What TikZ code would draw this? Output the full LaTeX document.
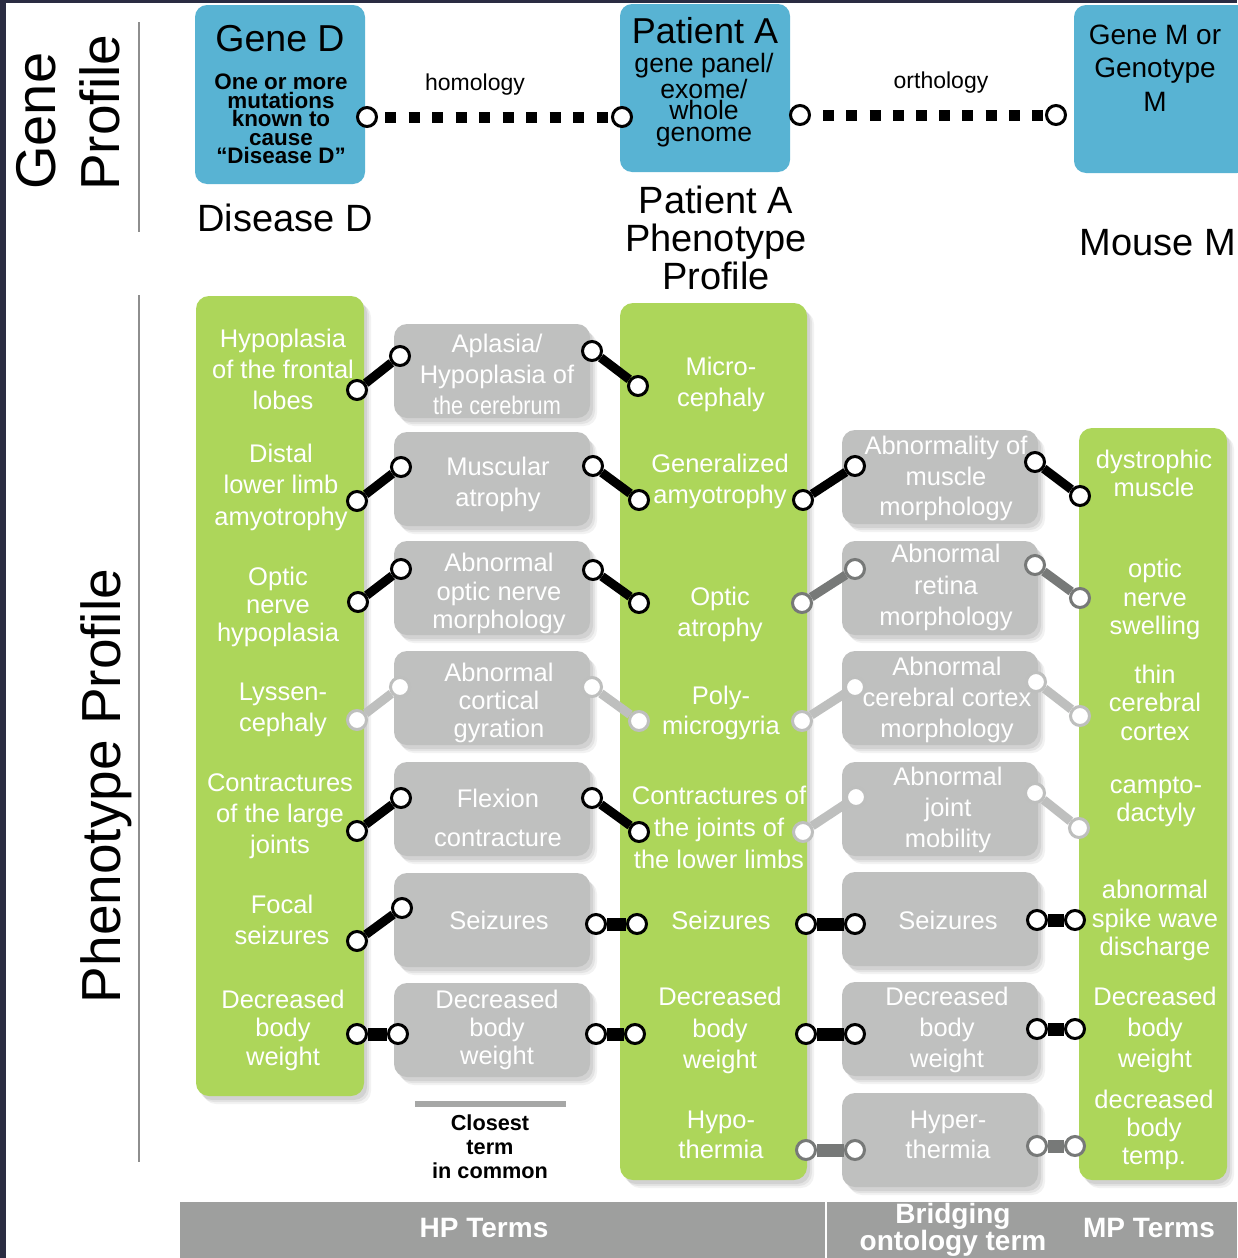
\documentclass[tikz,border=0pt]{standalone}
\usepackage{fontspec}
\setmainfont{Liberation Sans}
\usepackage{graphicx}
\definecolor{navy}{HTML}{2A2C42}
\definecolor{bluebx}{HTML}{58B3D3}
\definecolor{grn}{HTML}{ADD65A}
\definecolor{gry}{HTML}{BFC0BF}
\definecolor{barg}{HTML}{9E9F9E}
\definecolor{midg}{HTML}{777978}
\definecolor{ltg}{HTML}{BEBFBE}
\definecolor{sepg}{HTML}{8E8E8E}
\definecolor{legg}{HTML}{A6A7A6}
\newcommand\dumb[5]{%
  \node[cdot=#1] (#2a) at (#3) {};
  \node[cdot=#1] (#2b) at (#4) {};
  \draw[draw=#1, line width=#5] (#2a) -- (#2b);}
\begin{document}
\begin{tikzpicture}[x=1pt,y=-1pt,
  shd/.style={
    preaction={fill=black,fill opacity=0.05,transform canvas={xshift=7pt,yshift=-8pt}},
    preaction={fill=black,fill opacity=0.06,transform canvas={xshift=5pt,yshift=-6pt}},
    preaction={fill=black,fill opacity=0.07,transform canvas={xshift=3pt,yshift=-4pt}}},
  bx/.style={inner sep=0pt,outer sep=0pt,rounded corners=13pt,anchor=north west,draw=none},
  gbox/.style={bx,shd,fill=grn},
  ybox/.style={bx,shd,fill=gry},
  bbox/.style={bx,fill=bluebx,rounded corners=12pt},
  wt/.style={text=white,align=center,inner sep=0pt,font=\fontsize{25.5}{31}\selectfont},
  lead/.style={font=\fontsize{25.5}{#1}\selectfont},
  cdot/.style={circle,draw=#1,fill=white,line width=3pt,minimum size=19pt,inner sep=0pt},
  bt/.style={text=black,align=center,inner sep=0pt},
]
\useasboundingbox (0,0) rectangle (1237,1258);
\fill[white] (0,0) rectangle (1237,1258);
\fill[navy] (0,0) rectangle (1237,3);
\fill[navy] (0,0) rectangle (6,1258);

% side labels
\draw[sepg,line width=1.5pt] (139,22) -- (139,232);
\draw[sepg,line width=1.5pt] (139,295) -- (139,1162);
\node[bt,rotate=90,anchor=base west,font=\fontsize{56}{60}\selectfont] (lgene) at (55,190) {Gene};
\node[bt,rotate=90,anchor=base west,font=\fontsize{55}{60}\selectfont] (lprof) at (119,191) {Profile};
\node[bt,rotate=90,anchor=base,font=\fontsize{55}{60}\selectfont] (lphen) at (120,786) {Phenotype Profile};

% gene boxes
\node[bbox,minimum width=170pt,minimum height=179pt] (geneD) at (195,5) {};
\node[bbox,minimum width=170pt,minimum height=168pt] (patA) at (620,4) {};
\node[bbox,minimum width=175pt,minimum height=168pt] (geneM) at (1074,5) {};
\node[bt,font=\fontsize{37.5}{40}\selectfont] (tGD) at (280,38.5) {Gene D};
\node[bt,font=\bfseries\fontsize{22.4}{18.4}\selectfont] (tGDs) at (281,119) {One or more\\mutations\\known to\\cause\\“Disease D”};
\node[bt,font=\fontsize{36}{40}\selectfont] (tPA) at (705,31) {Patient A};
\node[bt,font=\fontsize{26.6}{21.5}\selectfont] (tPAs) at (704,100) {gene panel/\\exome/\\whole\\genome};
\node[bt,font=\fontsize{28}{33.5}\selectfont] (tGM) at (1155,68) {Gene M or\\Genotype\\M};
\node[bt,font=\fontsize{38}{38}\selectfont] (tDD) at (285,218) {Disease D};
\node[bt,font=\fontsize{38}{38}\selectfont] (tPP) at (716,238) {Patient A\\Phenotype\\Profile};
\node[bt,font=\fontsize{38}{38}\selectfont] (tMM) at (1158,243) {Mouse M};

% homology / orthology
\node[cdot=black] (hL) at (367,117) {};
\node[cdot=black] (hR) at (622,117) {};
\draw[line width=11pt,dash pattern=on 11pt off 12.5pt,dash phase=16.5pt] (hL) -- (hR);
\node[bt,font=\fontsize{23}{26}\selectfont] (thom) at (475,85) {homology};
\node[cdot=black] (oL) at (800,115) {};
\node[cdot=black] (oR) at (1056,115) {};
\draw[line width=11pt,dash pattern=on 11pt off 12.2pt,dash phase=11pt] (oL) -- (oR);
\node[bt,font=\fontsize{23}{26}\selectfont] (torth) at (941,83) {orthology};

% phenotype columns
\node[gbox,minimum width=168pt,minimum height=800pt] (colL) at (196,296) {};
\node[gbox,minimum width=187pt,minimum height=877pt] (colC) at (620,303) {};
\node[gbox,minimum width=148pt,minimum height=752pt] (colR) at (1079,428) {};

\foreach \n/\y in {a1/324,a2/432,a3/541,a4/651,a5/762,a6/873,a7/983}
  \node[ybox,minimum width=196pt,minimum height=94pt] (\n) at (394,\y) {};
\foreach \n/\y in {b1/430,b2/541,b3/651,b4/762,b5/872,b6/982,b7/1093}
  \node[ybox,minimum width=196pt,minimum height=94pt] (\n) at (842,\y) {};

% left column texts
\node[wt] (tL1) at (283,369) {Hypoplasia\\of the frontal\\lobes};
\node[wt,lead=31.5] (tL2) at (281,487) {Distal\\lower limb\\amyotrophy};
\node[wt,lead=28] (tL3) at (278,607) {Optic\\nerve\\hypoplasia};
\node[wt] (tL4) at (283,710) {Lyssen-\\cephaly};
\node[wt] (tL5) at (280,816) {Contractures\\of the large\\joints};
\node[wt] (tL6) at (282,920) {Focal\\seizures};
\node[wt,lead=28.5] (tL7) at (283,1030) {Decreased\\body\\weight};

% gray column 1
\node[wt] (tA1) at (497,374) {Aplasia/\\Hypoplasia of\\\scalebox{0.85}[1]{the cerebrum}};
\node[wt] (tA2) at (498,484.5) {Muscular\\atrophy};
\node[wt,lead=28.5] (tA3) at (499,593.5) {Abnormal\\optic nerve\\morphology};
\node[wt,lead=28] (tA4) at (499,703) {Abnormal\\cortical\\gyration};
\node[wt,lead=39] (tA5) at (498,817.5) {Flexion\\contracture};
\node[wt] (tA6) at (499,920) {Seizures};
\node[wt,lead=28] (tA7) at (497,1030) {Decreased\\body\\weight};

% center column
\node[wt] (tC1) at (721,384.5) {Micro-\\cephaly};
\node[wt] (tC2) at (720,481.5) {Generalized\\amyotrophy};
\node[wt] (tC3) at (720,614.5) {Optic\\atrophy};
\node[wt,lead=30] (tC4) at (721,713) {Poly-\\microgyria};
\node[wt,lead=32] (tC5) at (719,827) {Contractures of\\the joints of\\the lower limbs};
\node[wt] (tC6) at (721,920) {Seizures};
\node[wt,lead=31.5] (tC7) at (720,1030.5) {Decreased\\body\\weight};
\node[wt,lead=30] (tC8) at (721,1135) {Hypo-\\thermia};

% gray column 2
\node[wt,lead=30.5] (tB1) at (946,478.5) {Abnormality of\\muscle\\morphology};
\node[wt,lead=31.5] (tB2) at (946,587.5) {Abnormal\\retina\\morphology};
\node[wt] (tB3) at (947,700) {Abnormal\\cerebral cortex\\morphology};
\node[wt] (tB4) at (948,810) {Abnormal\\joint\\mobility};
\node[wt] (tB5) at (948,920) {Seizures};
\node[wt] (tB6) at (947,1030) {Decreased\\body\\weight};
\node[wt,lead=30] (tB7) at (948,1135) {Hyper-\\thermia};

% right column
\node[wt,lead=28] (tR1) at (1154,473) {dystrophic\\muscle};
\node[wt,lead=28.5] (tR2) at (1155,599.5) {optic\\nerve\\swelling};
\node[wt,lead=28.5] (tR3) at (1155,702.5) {thin\\cerebral\\cortex};
\node[wt,lead=28] (tR4) at (1156,802) {campto-\\dactyly};
\node[wt,lead=28.5] (tR5) at (1155,920.5) {abnormal\\spike wave\\discharge};
\node[wt] (tR6) at (1155,1030) {Decreased\\body\\weight};
\node[wt,lead=28] (tR7) at (1154,1130) {decreased\\body\\temp.};

% connectors left -> gray1
\dumb{black}{p1}{357,390}{400,356}{9pt}
\dumb{black}{p2}{357,501}{401,467}{9pt}
\dumb{black}{p3}{358,602}{401,569}{9pt}
\dumb{ltg}{p4}{357,720}{400,687}{9pt}
\dumb{black}{p5}{357,831}{401,798}{9pt}
\dumb{black}{p6}{357,941}{402,908}{9pt}
\dumb{black}{p7}{357,1034}{398,1034}{13pt}
% gray1 -> center
\dumb{black}{q1}{592,351}{638,386}{9pt}
\dumb{black}{q2}{593,466}{639,500}{9pt}
\dumb{black}{q3}{593,570}{639,603}{9pt}
\dumb{ltg}{q4}{592,687}{639,721}{9pt}
\dumb{black}{q5}{592,798}{639,832}{9pt}
\dumb{black}{q6}{596,924}{637,924}{13pt}
\dumb{black}{q7}{596,1034}{635,1034}{13pt}
% center -> gray2
\dumb{black}{s1}{803,500}{855,466}{9pt}
\dumb{midg}{s2}{802,603}{855,569}{9pt}
\dumb{ltg}{s3}{802,721}{855,687}{9pt}
\dumb{ltg}{s4}{803,832}{856,797}{9pt}
\dumb{black}{s5}{806,924}{855,924}{13pt}
\dumb{black}{s6}{806,1034}{855,1034}{13pt}
\dumb{midg}{s7}{806,1150}{855,1150}{13pt}
% gray2 -> right
\dumb{black}{u1}{1035,462}{1080,496}{9pt}
\dumb{midg}{u2}{1035,565}{1080,598}{9pt}
\dumb{ltg}{u3}{1036,682}{1080,716}{9pt}
\dumb{ltg}{u4}{1035,793}{1079,828}{9pt}
\dumb{black}{u5}{1037,920}{1075,920}{13pt}
\dumb{black}{u6}{1037,1029}{1075,1029}{13pt}
\dumb{midg}{u7}{1037,1146}{1075,1146}{13pt}

% legend
\node[fill=legg,inner sep=0pt,minimum width=151pt,minimum height=6pt] (legbar) at (490.5,1104) {};
\node[bt,font=\bfseries\fontsize{21.7}{24}\selectfont] (tleg) at (490,1147) {Closest\\term\\in common};

% bottom bar
\node[fill=barg,inner sep=0pt,anchor=north west,minimum width=1057pt,minimum height=56pt] (bar) at (180,1202) {};
\node[fill=white,inner sep=0pt,minimum width=2pt,minimum height=56pt] (bardiv) at (826,1230) {};
\node[wt,font=\bfseries\fontsize{28}{25}\selectfont] (tHP) at (484,1228) {HP Terms};
\node[wt,font=\bfseries\fontsize{28}{25}\selectfont] (tBr) at (953,1230) {Bridging\\ontology term};
\node[wt,font=\bfseries\fontsize{28}{25}\selectfont] (tMP) at (1149,1228) {MP Terms};
\end{tikzpicture}
\end{document}
